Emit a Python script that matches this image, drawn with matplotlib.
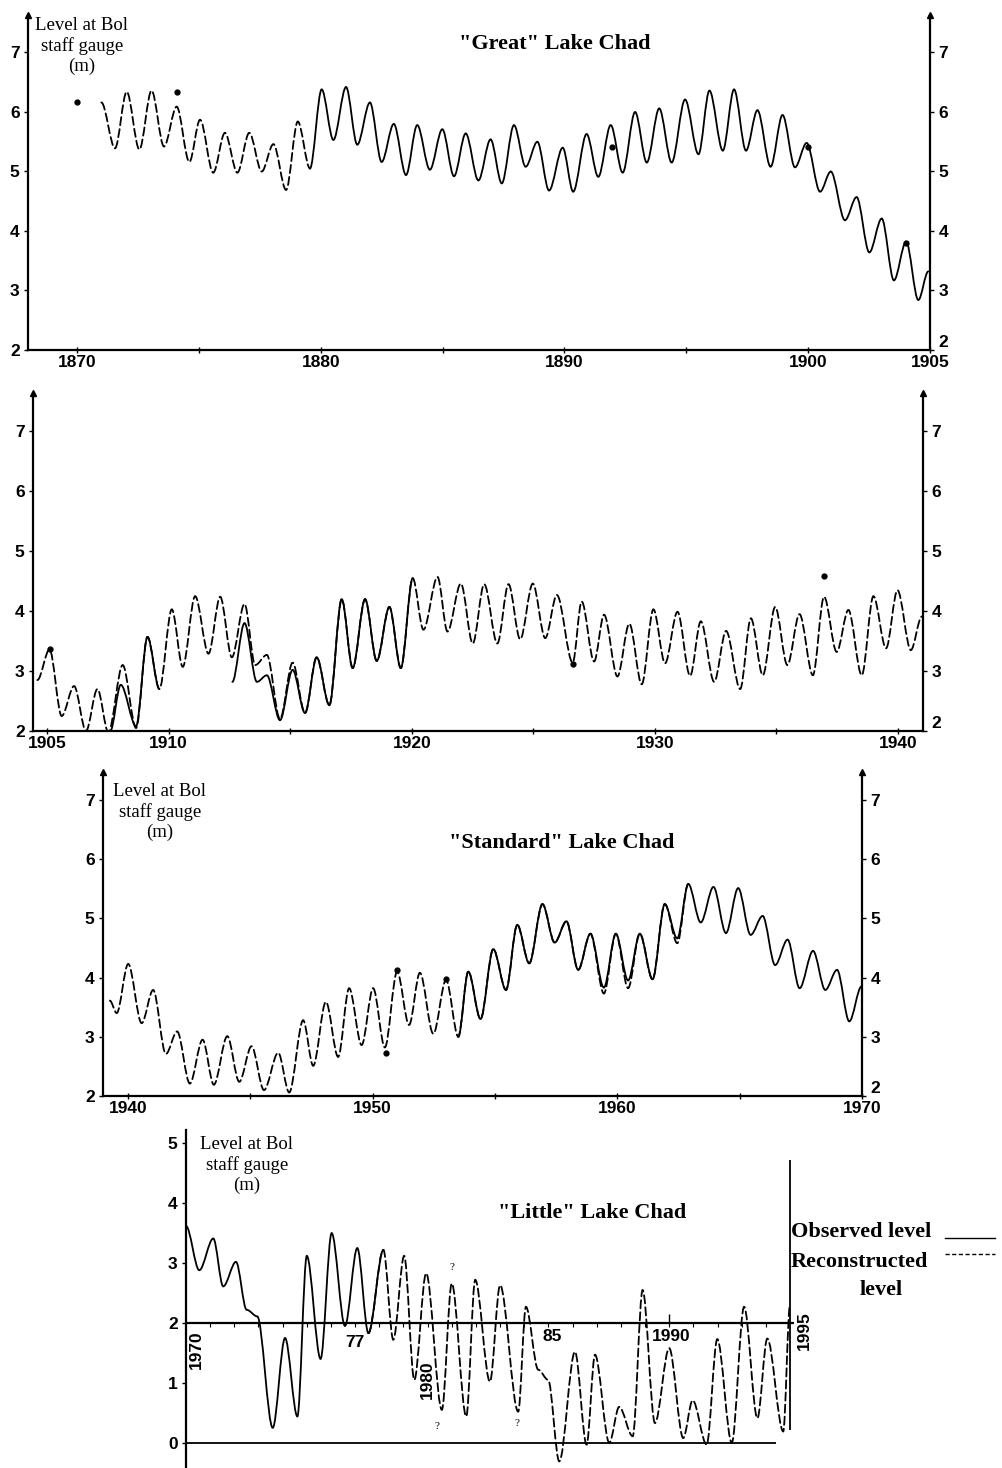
import matplotlib
matplotlib.use('Agg')
import matplotlib.pyplot as plt
from matplotlib.path import Path
from matplotlib.patches import PathPatch
from matplotlib.lines import Line2D

W, H = 1003, 1468
SERIF = 'Liberation Serif'
SANS = 'Liberation Sans'

# ---------------- Panel 1 : "Great" Lake Chad ----------------
great_recon_t = [1871.0, 1871.56, 1872.04, 1872.56, 1873.06, 1873.57, 1874.09, 1874.61, 1875.05,
                 1875.59, 1876.07, 1876.58, 1877.07, 1877.58, 1878.06, 1878.58, 1879.06, 1879.56]
great_recon_v = [6.16, 5.39, 6.34, 5.37, 6.36, 5.42, 6.09, 5.16, 5.87,
                 4.98, 5.65, 4.98, 5.65, 5.00, 5.46, 4.69, 5.84, 5.05]
great_obs_t = [1879.56, 1880.04, 1880.52, 1881.04, 1881.5, 1882.02, 1882.5, 1883.0, 1883.5, 1883.96,
               1884.48, 1884.99, 1885.47, 1885.95, 1886.47, 1886.97, 1887.43, 1887.93, 1888.41, 1888.89,
               1889.37, 1889.93, 1890.36, 1890.91, 1891.39, 1891.9, 1892.39, 1892.9, 1893.38, 1893.89,
               1894.4, 1894.95, 1895.5, 1895.95, 1896.5, 1896.96, 1897.45, 1897.92, 1898.46, 1898.95,
               1899.46, 1899.94, 1900.49, 1900.93, 1901.51, 1901.99, 1902.51, 1903.02, 1903.52, 1904.02,
               1904.52, 1904.93]
great_obs_v = [5.05, 6.38, 5.53, 6.42, 5.45, 6.16, 5.16, 5.80, 4.94, 5.78,
               5.03, 5.71, 4.92, 5.64, 4.85, 5.54, 4.80, 5.78, 5.08, 5.50,
               4.68, 5.40, 4.66, 5.63, 4.91, 5.78, 4.98, 6.00, 5.15, 6.06,
               5.15, 6.21, 5.29, 6.36, 5.35, 6.38, 5.35, 6.03, 5.08, 5.95,
               5.07, 5.48, 4.66, 5.00, 4.18, 4.57, 3.64, 4.21, 3.17, 3.82,
               2.84, 3.32]
great_dots_t = [1870.0, 1874.1, 1891.94, 1900.0, 1904.0]
great_dots_v = [6.16, 6.33, 5.42, 5.42, 3.80]
great_xticks = [1870, 1875, 1880, 1885, 1890, 1895, 1900, 1905]
great_xlabels = ['1870', '', '1880', '', '1890', '', '1900', '1905']

# ---------------- Panel 2 : 1905-1941 ----------------
p2_recon_t = [1904.6, 1905.1, 1905.6, 1906.11, 1906.6, 1907.07, 1907.52, 1908.11, 1908.66, 1909.13,
              1909.62, 1910.13, 1910.58, 1911.09, 1911.64, 1912.12, 1912.6, 1913.12, 1913.56, 1914.04,
              1914.58, 1915.1, 1915.61, 1916.09, 1916.61, 1917.12, 1917.57, 1918.08, 1918.56, 1919.08,
              1919.55, 1920.04, 1920.48, 1921.06, 1921.47, 1922.02, 1922.51, 1922.98, 1923.52, 1923.98,
              1924.46, 1924.98, 1925.49, 1925.97, 1926.62, 1926.99, 1927.5, 1927.91, 1928.46, 1928.95,
              1929.46, 1929.94, 1930.42, 1930.93, 1931.45, 1931.89, 1932.44, 1932.93, 1933.51, 1933.95,
              1934.44, 1934.95, 1935.45, 1935.95, 1936.5, 1936.96, 1937.48, 1937.96, 1938.51, 1938.99,
              1939.51, 1939.98, 1940.53, 1940.98]
p2_recon_v = [2.85, 3.36, 2.25, 2.75, 2.00, 2.70, 1.98, 3.10, 2.05, 3.57,
              2.70, 4.03, 3.07, 4.25, 3.29, 4.24, 3.23, 4.12, 3.10, 3.27,
              2.20, 3.14, 2.30, 3.23, 2.43, 4.20, 3.05, 4.20, 3.17, 4.07,
              3.05, 4.55, 3.69, 4.57, 3.66, 4.46, 3.46, 4.45, 3.46, 4.45,
              3.53, 4.46, 3.55, 4.27, 3.14, 4.16, 3.16, 3.94, 2.91, 3.79,
              2.78, 4.03, 3.13, 3.99, 2.92, 3.83, 2.82, 3.67, 2.70, 3.88,
              2.93, 4.07, 3.10, 3.95, 2.93, 4.24, 3.32, 4.02, 2.93, 4.25,
              3.38, 4.35, 3.35, 3.91]
p2_obs_a_t = [1907.6, 1908.03, 1908.66, 1909.13, 1909.62]
p2_obs_a_v = [2.00, 2.77, 2.08, 3.57, 2.70]
p2_obs_b_t = [1912.62, 1913.12, 1913.63, 1914.04, 1914.58, 1915.1, 1915.61, 1916.09,
              1916.61, 1917.12, 1917.57, 1918.08, 1918.56, 1919.08, 1919.55, 1920.04]
p2_obs_b_v = [2.82, 3.80, 2.82, 2.93, 2.18, 3.02, 2.30, 3.23,
              2.43, 4.20, 3.05, 4.20, 3.17, 4.07, 3.05, 4.55]
p2_dots_t = [1905.1, 1926.62, 1936.96]
p2_dots_v = [3.36, 3.12, 4.59]
p2_xticks = [1905, 1910, 1915, 1920, 1925, 1930, 1935, 1940]
p2_xlabels = ['1905', '1910', '', '1920', '', '1930', '', '1940']

# ---------------- Panel 3 : "Standard" Lake Chad ----------------
std_recon_t = [1939.26, 1939.54, 1940.01, 1940.56, 1941.03, 1941.55, 1942.01, 1942.53, 1943.05, 1943.51,
               1944.06, 1944.55, 1945.05, 1945.56, 1946.14, 1946.59, 1947.16, 1947.57, 1948.09, 1948.59,
               1949.04, 1949.55, 1950.02, 1950.5, 1951.0, 1951.49, 1951.93, 1952.48, 1953.0, 1953.5,
               1953.91, 1954.41, 1954.93, 1955.45, 1955.91, 1956.4, 1956.94, 1957.44, 1957.92, 1958.4,
               1958.9, 1959.45, 1959.94, 1960.44, 1960.92, 1961.44, 1961.94, 1962.45, 1962.9]
std_recon_v = [3.61, 3.40, 4.23, 3.23, 3.79, 2.71, 3.09, 2.21, 2.95, 2.19,
               3.01, 2.24, 2.84, 2.10, 2.73, 2.06, 3.28, 2.51, 3.59, 2.66,
               3.82, 2.86, 3.82, 2.82, 4.10, 3.20, 4.08, 3.05, 3.96, 3.00,
               4.10, 3.30, 4.48, 3.79, 4.89, 4.24, 5.24, 4.59, 4.95, 4.13,
               4.74, 3.73, 4.74, 3.82, 4.74, 3.97, 5.24, 4.58, 5.58]
std_obs_t = [1953.5, 1953.91, 1954.41, 1954.93, 1955.45, 1955.91, 1956.4, 1956.94, 1957.44, 1957.92,
             1958.4, 1958.9, 1959.45, 1959.94, 1960.44, 1960.92, 1961.44, 1961.94, 1962.45, 1962.9,
             1963.41, 1963.93, 1964.44, 1964.94, 1965.45, 1965.94, 1966.45, 1966.96, 1967.45, 1968.0,
             1968.5, 1968.98, 1969.48, 1969.98]
std_obs_v = [3.00, 4.10, 3.30, 4.48, 3.79, 4.89, 4.24, 5.24, 4.59, 4.95,
             4.13, 4.74, 3.83, 4.74, 3.95, 4.74, 3.97, 5.24, 4.66, 5.58,
             4.93, 5.53, 4.75, 5.51, 4.72, 5.04, 4.21, 4.64, 3.82, 4.45,
             3.79, 4.13, 3.26, 3.85]
std_dots_t = [1950.54, 1951.0, 1953.0]
std_dots_v = [2.73, 4.12, 3.97]
std_xticks = [1940, 1945, 1950, 1955, 1960, 1965, 1970]
std_xlabels = ['1940', '', '1950', '', '1960', '', '1970']

# ---------------- Panel 4 : "Little" Lake Chad ----------------
little_obs_t = [1970.0, 1970.55, 1971.13, 1971.54, 1972.07, 1972.51, 1972.95, 1973.59, 1974.1,
                1974.61, 1975.0, 1975.57, 1976.03, 1976.58, 1977.09, 1977.55, 1978.17]
little_obs_v = [3.62, 2.88, 3.41, 2.61, 3.02, 2.22, 2.11, 0.25, 1.75,
                0.44, 3.12, 1.40, 3.50, 1.95, 3.25, 1.83, 3.22]
little_recon_t = [1977.55, 1978.17, 1978.58, 1979.03, 1979.45, 1979.94, 1980.59, 1981.0, 1981.6, 1981.97,
                  1982.58, 1983.0, 1983.75, 1984.07, 1984.58, 1984.99, 1985.45, 1986.1, 1986.58, 1986.93,
                  1987.52, 1987.93, 1988.49, 1988.9, 1989.41, 1990.0, 1990.58, 1990.97, 1991.55, 1991.99,
                  1992.59, 1993.1, 1993.65, 1994.06, 1994.72, 1995.0]
little_recon_v = [1.83, 3.22, 1.72, 3.12, 1.05, 2.83, 0.55, 2.66, 0.44, 2.72,
                  1.02, 2.63, 0.52, 2.27, 1.22, 1.05, -0.31, 1.52, -0.03, 1.47,
                  0.00, 0.60, 0.11, 2.55, 0.33, 1.58, 0.08, 0.71, -0.03, 1.73,
                  0.00, 2.27, 0.41, 1.74, 0.19, 2.30]
little_year_labels = ['1970', '77', '1980', '85', '1990', '1995']
little_year_pos = [1970.45, 1977.0, 1980.0, 1985.15, 1990.1, 1995.6]
little_year_y = [1.55, 1.68, 1.05, 1.77, 1.77, 1.88]
little_year_rot = [90, 0, 90, 0, 0, 90]
little_qmark_t = [1981.0, 1980.4, 1983.7]
little_qmark_v = [2.92, 0.28, 0.33]
little_yticks = [0, 1, 2, 3, 4, 5]
level_yticks = [2, 3, 4, 5, 6, 7]

fig = plt.figure(figsize=(W / 100, H / 100), dpi=100)

LW = 1.3
DASH = (0, (4.5, 2.2))
TICKFS = 12.5
TITLEFS = 16
LABELFS = 13.5
LEGFS = 16


def smooth_path(t, v):
    verts = [(t[0], v[0])]
    codes = [Path.MOVETO]
    for i in range(len(t) - 1):
        dt = t[i + 1] - t[i]
        verts += [(t[i] + dt / 3.0, v[i]), (t[i + 1] - dt / 3.0, v[i + 1]), (t[i + 1], v[i + 1])]
        codes += [Path.CURVE4] * 3
    return Path(verts, codes)


def draw_curve(ax, t, v, dashed, z=3):
    patch = PathPatch(smooth_path(t, v), fill=False, edgecolor='black', lw=LW,
                      linestyle=DASH if dashed else '-', zorder=z, capstyle='round')
    ax.add_patch(patch)


def px_axes(l, r, t, b):
    return fig.add_axes([l / W, 1 - b / H, (r - l) / W, (b - t) / H])


def style_level_axes(ax, xlim, ylim, xticks, xlabels):
    ax.set_xlim(*xlim)
    ax.set_ylim(*ylim)
    ax.spines['top'].set_visible(False)
    for s in ['left', 'right', 'bottom']:
        ax.spines[s].set_linewidth(1.6)
    ax.set_xticks(xticks)
    ax.set_xticklabels(xlabels, fontfamily=SANS, fontweight='bold', fontsize=TICKFS)
    ax.set_yticks(level_yticks)
    ax.set_yticklabels([str(y) for y in level_yticks], fontfamily=SANS, fontweight='bold',
                       fontsize=TICKFS)
    ax.tick_params(axis='y', left=True, right=True, labelleft=True, labelright=True,
                   direction='out', length=3, width=1, pad=3)
    ax.tick_params(axis='x', direction='inout', length=5, width=1, pad=1)
    # lowest right-hand label sits just above the axis line, as in the original
    ax.yaxis.get_major_ticks()[0].label2.set_verticalalignment('bottom')
    ax.plot([0, 1], [1, 1], marker='^', ls='none', ms=4.5, color='black',
            transform=ax.transAxes, clip_on=False)
    ax.patch.set_alpha(0)


def ftext(x, y, s, **kw):
    fig.text(x / W, 1 - y / H, s, **kw)


# Panel 1
ax1 = px_axes(28, 930, 15, 350)
style_level_axes(ax1, (1867.99, 1905.0), (2, 7.63), great_xticks, great_xlabels)
draw_curve(ax1, great_recon_t, great_recon_v, True)
draw_curve(ax1, great_obs_t, great_obs_v, False)
ax1.plot(great_dots_t, great_dots_v, 'o', ms=3.5, color='black')
ftext(82, 46, 'Level at Bol\nstaff gauge\n(m)', ha='center', va='center', fontfamily=SERIF,
      fontsize=LABELFS, linespacing=1.25)
ftext(555, 44, '"Great" Lake Chad', ha='center', va='center', fontfamily=SERIF,
      fontweight='bold', fontsize=TITLEFS)

# Panel 2
ax2 = px_axes(33, 923, 393, 731)
style_level_axes(ax2, (1904.42, 1941.03), (2, 7.64), p2_xticks, p2_xlabels)
draw_curve(ax2, p2_recon_t, p2_recon_v, True)
draw_curve(ax2, p2_obs_a_t, p2_obs_a_v, False, z=4)
draw_curve(ax2, p2_obs_b_t, p2_obs_b_v, False, z=4)
ax2.plot(p2_dots_t, p2_dots_v, 'o', ms=3.5, color='black')

# Panel 3
ax3 = px_axes(103, 862, 772, 1096)
style_level_axes(ax3, (1938.98, 1970.0), (2, 7.47), std_xticks, std_xlabels)
draw_curve(ax3, std_recon_t, std_recon_v, True)
draw_curve(ax3, std_obs_t, std_obs_v, False, z=4)
ax3.plot(std_dots_t, std_dots_v, 'o', ms=3.5, color='black')
ftext(160, 812, 'Level at Bol\nstaff gauge\n(m)', ha='center', va='center', fontfamily=SERIF,
      fontsize=LABELFS, linespacing=1.25)
ftext(562, 843, '"Standard" Lake Chad', ha='center', va='center', fontfamily=SERIF,
      fontweight='bold', fontsize=TITLEFS)

# Panel 4
ax4 = px_axes(186, 790, 1130, 1468)
ax4.set_xlim(1970, 1995)
ax4.set_ylim(-0.42, 5.22)
for s in ['top', 'right', 'bottom']:
    ax4.spines[s].set_visible(False)
ax4.spines['left'].set_linewidth(1.6)
ax4.set_xticks([])
ax4.set_yticks(little_yticks)
ax4.set_yticklabels([str(y) for y in little_yticks], fontfamily=SANS, fontweight='bold',
                    fontsize=TICKFS)
ax4.tick_params(axis='y', direction='out', length=3, width=1, pad=3)
ax4.patch.set_alpha(0)
ax4.hlines(2, 1970, 1995.15, color='black', lw=1.6, clip_on=False)
ax4.hlines(0, 1970, 1994.4, color='black', lw=1.3)
ax4.vlines(1995, 0.22, 4.72, color='black', lw=1.3, clip_on=False)
ax4.plot(range(1971, 1995), [1.97] * 24, ls='none', marker='|', ms=3.5, mew=0.8, color='black')
ax4.plot([1990], [2.07], ls='none', marker='|', ms=7, mew=1.0, color='black')
draw_curve(ax4, little_obs_t, little_obs_v, False)
draw_curve(ax4, little_recon_t, little_recon_v, True)
for lab, xp, yp, rot in zip(little_year_labels, little_year_pos, little_year_y, little_year_rot):
    ax4.text(xp, yp, lab, rotation=rot, ha='center', va='center', fontfamily=SANS,
             fontweight='bold', fontsize=TICKFS, clip_on=False)
for xq, yq in zip(little_qmark_t, little_qmark_v):
    ax4.text(xq, yq, '?', ha='center', va='center', fontfamily=SERIF, fontsize=8)
ftext(247, 1165, 'Level at Bol\nstaff gauge\n(m)', ha='center', va='center', fontfamily=SERIF,
      fontsize=LABELFS, linespacing=1.25)
ftext(592, 1213, '"Little" Lake Chad', ha='center', va='center', fontfamily=SERIF,
      fontweight='bold', fontsize=TITLEFS)

# Legend
ftext(791, 1232, 'Observed level', ha='left', va='center', fontfamily=SERIF,
      fontweight='bold', fontsize=LEGFS)
ftext(791, 1262, 'Reconstructed', ha='left', va='center', fontfamily=SERIF,
      fontweight='bold', fontsize=LEGFS)
ftext(881, 1290, 'level', ha='center', va='center', fontfamily=SERIF,
      fontweight='bold', fontsize=LEGFS)
fig.add_artist(Line2D([945 / W, 995 / W], [1 - 1238 / H] * 2, transform=fig.transFigure,
                      color='black', lw=1.0))
fig.add_artist(Line2D([945 / W, 995 / W], [1 - 1254 / H] * 2, transform=fig.transFigure,
                      color='black', lw=1.0, linestyle=(0, (3, 1.8))))

fig.savefig('out.png', dpi=100, facecolor='white')
